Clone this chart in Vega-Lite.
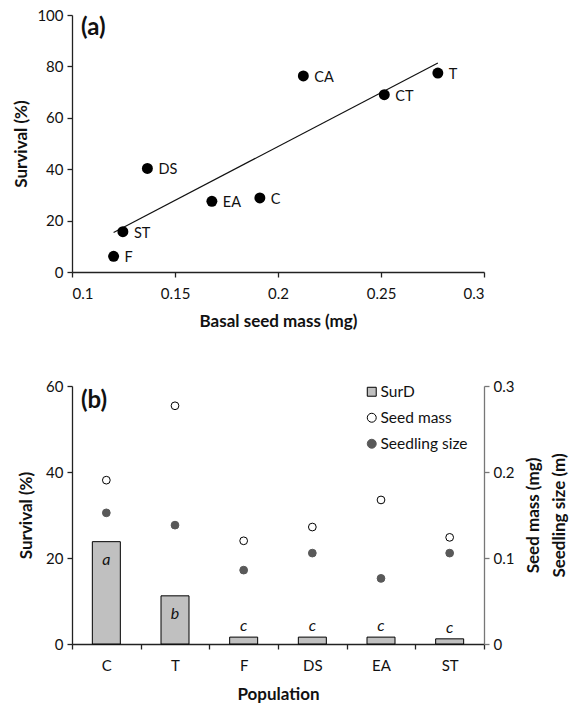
{
  "$schema": "https://vega.github.io/schema/vega-lite/v6.json",
  "padding": {"left": 12, "top": 8, "right": 5, "bottom": 5},
  "background": "white",
  "config": {
    "font": "Lato",
    "view": {"stroke": null},
    "axis": {"grid": false, "domainColor": "#222", "tickColor": "#222", "labelColor": "#111", "titleColor": "#111", "labelFontSize": 15, "titleFontSize": 17, "titleFontWeight": "bold", "tickSize": 5, "domainWidth": 1.3, "tickWidth": 1.3, "labelFont": "Lato", "titleFont": "Lato"},
    "legend": {"orient": "none", "legendX": 292, "legendY": -2, "labelFontSize": 15.5, "labelFont": "Lato", "labelColor": "#111", "symbolSize": 80, "symbolStrokeWidth": 1, "rowPadding": 9, "labelOffset": 1, "padding": 0, "symbolOpacity": 1},
    "title": {"font": "Lato"}
  },
  "datasets": {
    "scatter": [
      {"pop": "F", "mass": 0.1202, "surv": 6.1},
      {"pop": "ST", "mass": 0.1247, "surv": 15.7},
      {"pop": "DS", "mass": 0.1366, "surv": 40.3},
      {"pop": "EA", "mass": 0.1679, "surv": 27.5},
      {"pop": "C", "mass": 0.1912, "surv": 28.8},
      {"pop": "CA", "mass": 0.2123, "surv": 76.3},
      {"pop": "CT", "mass": 0.2516, "surv": 69.0},
      {"pop": "T", "mass": 0.2776, "surv": 77.4}
    ],
    "pops": [
      {"pop": "C", "surd": 23.8, "seedmass": 0.1905, "seedling": 0.1525, "letter": "a"},
      {"pop": "T", "surd": 11.2, "seedmass": 0.277, "seedling": 0.1382, "letter": "b"},
      {"pop": "F", "surd": 1.6, "seedmass": 0.12, "seedling": 0.0859, "letter": "c"},
      {"pop": "DS", "surd": 1.6, "seedmass": 0.136, "seedling": 0.1057, "letter": "c"},
      {"pop": "EA", "surd": 1.6, "seedmass": 0.1675, "seedling": 0.0763, "letter": "c"},
      {"pop": "ST", "surd": 1.2, "seedmass": 0.124, "seedling": 0.1057, "letter": "c"}
    ]
  },
  "spacing": 50,
  "resolve": {"scale": {"fill": "independent", "shape": "independent", "stroke": "independent"}},
  "vconcat": [
    {
      "width": 412,
      "height": 257,
      "title": {"text": "(a)", "anchor": "start", "frame": "group", "orient": "top", "offset": -51, "dx": 9, "baseline": "alphabetic", "fontSize": 24, "fontWeight": "bold", "color": "#111"},
      "data": {"name": "scatter"},
      "encoding": {
        "x": {"field": "mass", "type": "quantitative", "scale": {"domain": [0.1, 0.3], "nice": false, "zero": false}, "axis": {"values": [0.1, 0.15, 0.2, 0.25, 0.3], "format": "~g", "labelPadding": 9, "titlePadding": 12}, "title": "Basal seed mass (mg)"},
        "y": {"field": "surv", "type": "quantitative", "scale": {"domain": [0, 100], "nice": false}, "axis": {"values": [0, 20, 40, 60, 80, 100], "labelPadding": 4, "titlePadding": 6}, "title": "Survival (%)"}
      },
      "layer": [
        {"mark": {"type": "line", "color": "#111", "strokeWidth": 1.2}, "transform": [{"regression": "surv", "on": "mass"}], "encoding": {}},
        {"mark": {"type": "circle", "color": "black", "opacity": 1, "size": 120}, "encoding": {}},
        {"mark": {"type": "text", "align": "left", "baseline": "middle", "dx": 11, "dy": 2, "fontSize": 14.5, "color": "#111"}, "encoding": {"text": {"field": "pop"}}}
      ]
    },
    {
      "width": 412,
      "height": 258,
      "title": {"text": "(b)", "anchor": "start", "frame": "group", "orient": "top", "offset": -53, "dx": 9, "baseline": "alphabetic", "fontSize": 24, "fontWeight": "bold", "color": "#111"},
      "data": {"name": "pops"},
      "encoding": {
        "x": {"field": "pop", "type": "nominal", "sort": ["C", "T", "F", "DS", "EA", "ST"], "scale": {"paddingInner": 0, "paddingOuter": 0}, "axis": {"labelAngle": 0, "tickBand": "extent", "labelPadding": 9, "titlePadding": 13}, "title": "Population"}
      },
      "layer": [
        {
          "encoding": {"y": {"field": "surd", "type": "quantitative", "scale": {"domain": [0, 60], "nice": false}, "axis": {"values": [0, 20, 40, 60], "labelPadding": 4, "titlePadding": 10}, "title": "Survival (%)"}},
          "layer": [
            {"mark": {"type": "bar", "size": 28, "stroke": "black", "strokeWidth": 1}, "encoding": {"fill": {"datum": "SurD", "type": "nominal", "title": null, "scale": {"domain": ["SurD", "seedmass", "seedling"], "range": ["#c0c0c0", "white", "#595959"]}, "legend": {"labelExpr": "datum.label == 'seedmass' ? 'Seed mass' : datum.label == 'seedling' ? 'Seedling size' : datum.label"}}}},
            {"transform": [{"filter": "datum.surd > 5"}], "mark": {"type": "text", "baseline": "middle", "dy": 18, "fontSize": 16, "fontStyle": "italic", "color": "#111"}, "encoding": {"text": {"field": "letter"}}},
            {"transform": [{"filter": "datum.surd <= 5"}], "mark": {"type": "text", "baseline": "middle", "dy": -11, "fontSize": 16, "fontStyle": "italic", "color": "#111"}, "encoding": {"text": {"field": "letter"}}}
          ]
        },
        {
          "transform": [{"fold": ["seedmass", "seedling"], "as": ["key", "value"]}],
          "mark": {"type": "point", "filled": true, "opacity": 1, "size": 60, "strokeWidth": 1},
          "encoding": {
            "y": {"field": "value", "type": "quantitative", "scale": {"domain": [0, 0.3], "nice": false}, "axis": {"orient": "right", "values": [0, 0.1, 0.2, 0.3], "format": "~g", "domainColor": "#777", "tickColor": "#777", "labelPadding": 4, "titlePadding": -14, "titleAngle": 270, "titleBaseline": "top", "titleLineHeight": 26}, "title": ["Seed mass (mg)", "Seedling size (m)"]},
            "fill": {"field": "key", "type": "nominal", "title": null, "scale": {"domain": ["SurD", "seedmass", "seedling"], "range": ["#c0c0c0", "white", "#595959"]}, "legend": {"labelExpr": "datum.label == 'seedmass' ? 'Seed mass' : datum.label == 'seedling' ? 'Seedling size' : datum.label"}},
            "shape": {"field": "key", "type": "nominal", "title": null, "scale": {"domain": ["SurD", "seedmass", "seedling"], "range": ["square", "circle", "circle"]}, "legend": {"labelExpr": "datum.label == 'seedmass' ? 'Seed mass' : datum.label == 'seedling' ? 'Seedling size' : datum.label"}},
            "stroke": {"field": "key", "type": "nominal", "title": null, "scale": {"domain": ["SurD", "seedmass", "seedling"], "range": ["black", "black", "#595959"]}, "legend": {"labelExpr": "datum.label == 'seedmass' ? 'Seed mass' : datum.label == 'seedling' ? 'Seedling size' : datum.label"}}
          }
        }
      ],
      "resolve": {"scale": {"y": "independent"}}
    }
  ]
}
